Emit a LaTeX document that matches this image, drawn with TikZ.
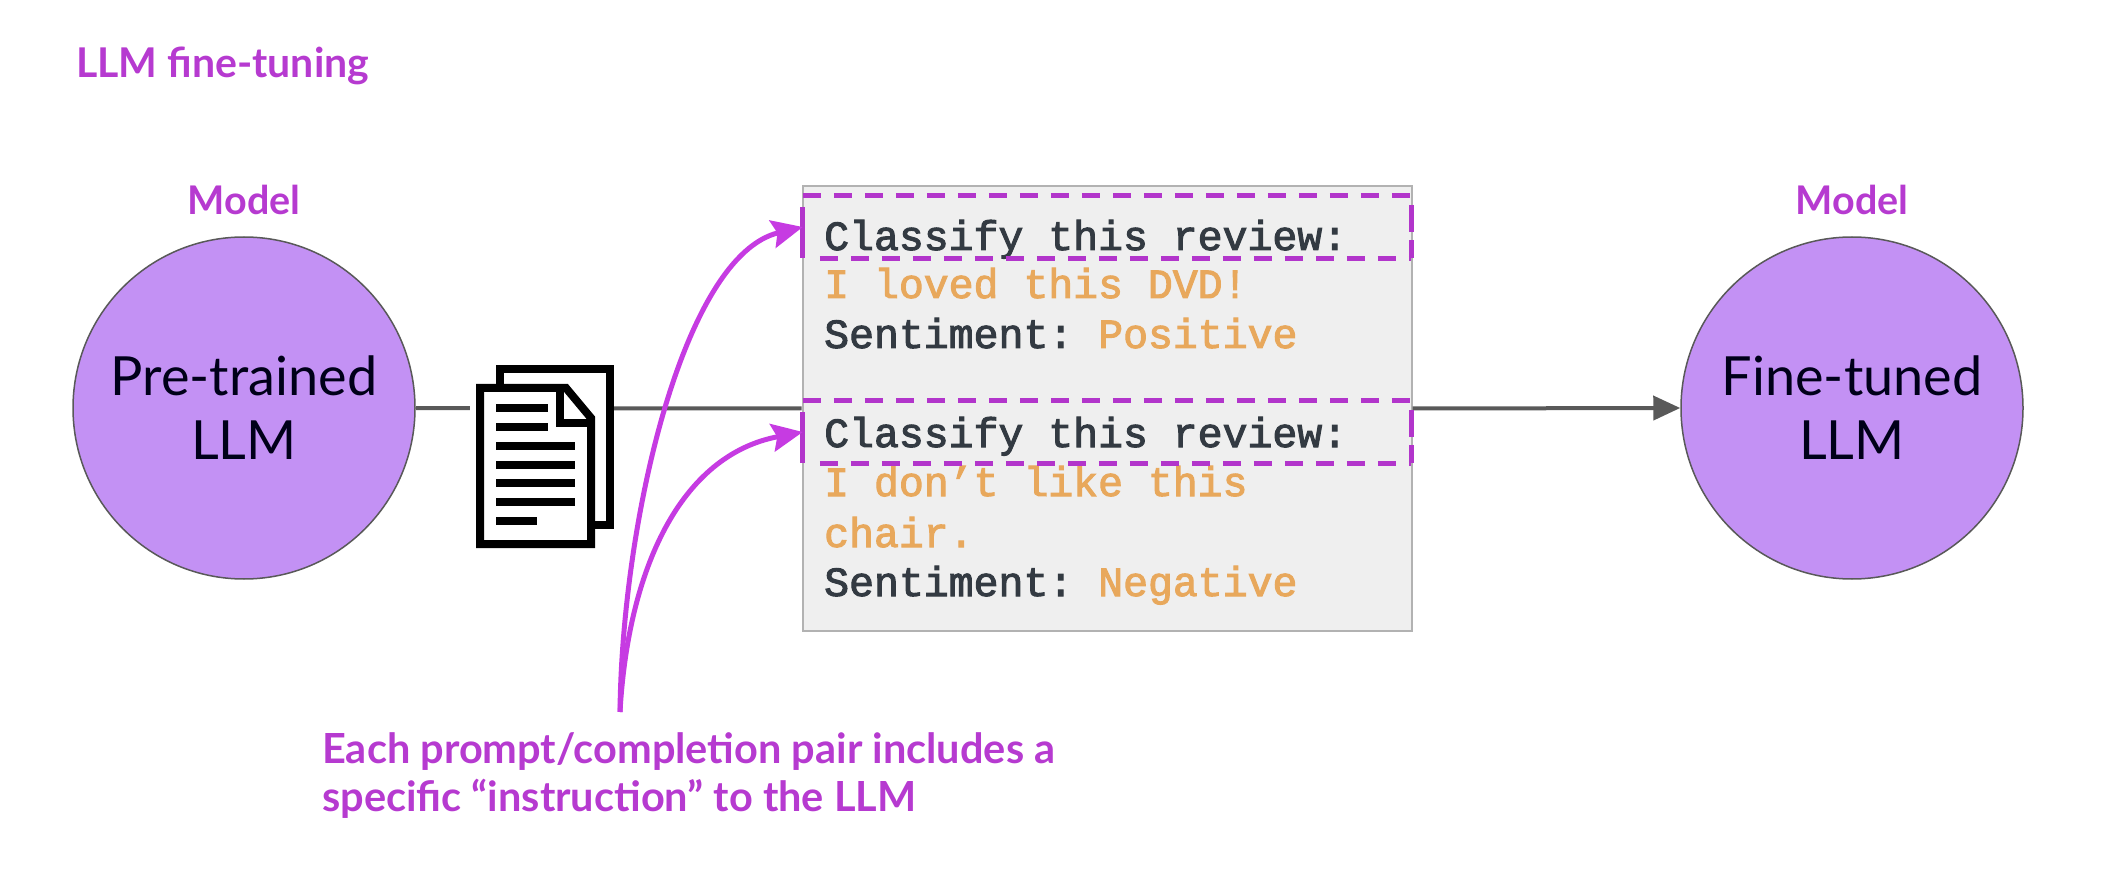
\documentclass[tikz,border=0pt]{standalone}
\usepackage{fontspec}
\setmainfont{Lato}
\newfontfamily\monof[FakeBold=2.4]{Liberation Mono}
\usetikzlibrary{arrows.meta,calc}
\definecolor{mag}{HTML}{B63AD0}
\definecolor{arr}{HTML}{C63BE2}
\definecolor{lilac}{HTML}{C391F4}
\definecolor{ora}{HTML}{E8A85C}
\definecolor{ink}{HTML}{333A42}
\definecolor{panel}{HTML}{EFEFEF}
\tikzset{
 head/.style={text=mag,font=\bfseries\fontsize{39.5}{50}\selectfont,inner sep=0pt},
 llm/.style={circle,draw=black!65,fill=lilac,line width=1.5pt,minimum size=342pt,inner sep=0pt,align=center,text=black!90!blue,font=\fontsize{54}{64}\selectfont},
 code/.style={anchor=base west,inner sep=0pt,font=\monof\fontsize{41.5}{48}\selectfont},
 flow/.style={draw=black!65,line width=4pt},
 call/.style={draw=arr,line width=5pt,-{Stealth[length=31pt,width=28pt,inset=5pt]}},
 dash top/.style={draw=arr!90!black,line width=5pt,dash pattern=on 18pt off 13pt},
 dash side/.style={draw=arr!90!black,line width=5pt},
 frame/.style={minimum width=608pt,minimum height=62pt,inner sep=0pt},
 ico/.style={draw=black,line width=8pt,fill=white,line join=miter}
}
\newcommand{\dashframe}[1]{%
  \draw[dash top] (#1.north west) -- (#1.north east);
  \draw[dash top] ($(#1.south west)+(17,0)$) -- (#1.south east);
  \draw[dash side] ($(#1.north west)+(0,11)$) -- (#1.south west);
  \draw[dash side] ($(#1.north east)+(0,9)$) -- ($(#1.north east)+(0,36)$);
  \draw[dash side] ($(#1.north east)+(0,44)$) -- (#1.south east);
}
\begin{document}
\begin{tikzpicture}[x=1pt,y=-1pt]
\useasboundingbox (0,0) rectangle (2110,874);
\node[head,anchor=west,font=\bfseries\fontsize{41}{50}\selectfont] (title) at (76,66) {LLM fine-tuning};
\node[llm] (pre) at (244,408) {Pre-trained\\LLM};
\node[llm] (fine) at (1852,408) {Fine-tuned\\LLM};
\node[head] (m1) at (244,200) {Model};
\node[head] (m2) at (1852,200) {Model};
\node[draw=black!30,fill=panel,line width=2pt,minimum width=609pt,minimum height=444pt,inner sep=0pt] (panel) at (1107,408.5) {};
\draw[flow] (pre.east) -- (panel.west);
\draw[flow,-{Triangle[length=27pt,width=24pt]}] (panel.east) -- (fine.west);
% document icon with its white margin on the connector
\fill[white] (470,400) rectangle (480,416);
\draw[ico] (499.5,369.5) rectangle (609.5,524.5);
\draw[ico] (480,388) -- (566,388) -- (591,418) -- (591,544) -- (480,544) -- cycle;
\draw[black,line width=8pt,line join=miter] (560,388) -- (560,423) -- (591,423);
\foreach \y/\e in {408/548,427/548,446/575,465/575,483/575,502/575,521/537}
  \draw[black,line width=7.5pt] (496,\y) -- (\e,\y);
% text
\node[code,text=ink] (c1) at (824,250) {Classify this review:};
\node[code,text=ora] (c2) at (824,298) {I loved this DVD!};
\node[code,text=ink] (c3) at (824,348) {Sentiment:\hspace{25pt}\textcolor{ora}{Positive}};
\node[code,text=ink] (c4) at (824,447) {Classify this review:};
\node[code,text=ora] (c5) at (824,496) {I don’t like this};
\node[code,text=ora] (c6) at (824,547) {chair.};
\node[code,text=ink] (c7) at (824,596) {Sentiment:\hspace{25pt}\textcolor{ora}{Negative}};
\node[frame] (b1) at (1107,227) {};
\node[frame] (b2) at (1107,432) {};
\dashframe{b1}
\dashframe{b2}
\coordinate (src) at (620,712);
\draw[call] (src) .. controls (622,520) and (684,255) .. (b1.west);
\draw[call] (src) .. controls (628,570) and (680,455) .. (b2.west);
\node[head,anchor=north west,align=left,font=\bfseries\fontsize{41.5}{48}\selectfont] (note) at (322,732) {Each prompt/completion pair includes a\\specific “instruction” to the LLM};
\end{tikzpicture}
\end{document}
